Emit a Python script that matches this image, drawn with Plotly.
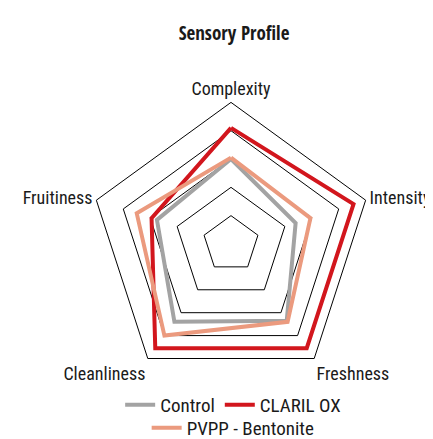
import plotly.graph_objects as go

categories = ["Complexity", "Intensity", "Freshness", "Cleanliness", "Fruitiness"]

control = [3.0, 2.4, 3.35, 3.4, 2.75]
claril_ox = [4.1, 4.55, 4.55, 4.55, 2.95]
pvpp_bentonite = [3.05, 2.95, 3.4, 4.0, 3.5]

series = [
    ("Control", control, "#a3a3a3", "legend"),
    ("CLARIL OX", claril_ox, "#d2161d", "legend"),
    ("PVPP - Bentonite", pvpp_bentonite, "#eb9a7e", "legend2"),
]

fig = go.Figure()

for name, vals, color, leg in series:
    fig.add_trace(go.Scatterpolar(
        r=vals + vals[:1],
        theta=categories + categories[:1],
        name=name,
        mode="lines",
        line=dict(color=color, width=4),
        legend=leg,
    ))

label_font = dict(family="Roboto Condensed, sans-serif", size=18, color="#1a1a1a")
legend_font = dict(family="Roboto Condensed, sans-serif", size=19, color="#1a1a1a")

fig.update_layout(
    width=433, height=439,
    margin=dict(l=0, r=0, t=0, b=0),
    paper_bgcolor="white",
    font=label_font,
    title=dict(text="Sensory Profile", x=0.522, xanchor="center", y=0.943, yanchor="middle",
               font=dict(family="Open Sans Condensed, Roboto Condensed, sans-serif", size=19,
                         color="#1a1a1a", weight=700)),
    polar=dict(
        domain=dict(x=[0.188, 0.842], y=[0.140, 0.785]),
        gridshape="linear",
        bgcolor="white",
        radialaxis=dict(range=[0, 5], tickvals=[1, 2, 3, 4], showticklabels=False,
                        showline=False, ticks="", gridcolor="black", gridwidth=1),
        angularaxis=dict(rotation=90, direction="clockwise", showgrid=False,
                         linecolor="black", linewidth=1, ticks="",
                         tickfont=label_font),
    ),
    legend=dict(orientation="h", x=0.52, xanchor="center", y=0.096, yanchor="middle",
                font=legend_font, bgcolor="rgba(0,0,0,0)"),
    legend2=dict(orientation="h", x=0.52, xanchor="center", y=0.0, yanchor="bottom",
                 font=legend_font, bgcolor="rgba(0,0,0,0)"),
)

fig.write_html("out.html")
